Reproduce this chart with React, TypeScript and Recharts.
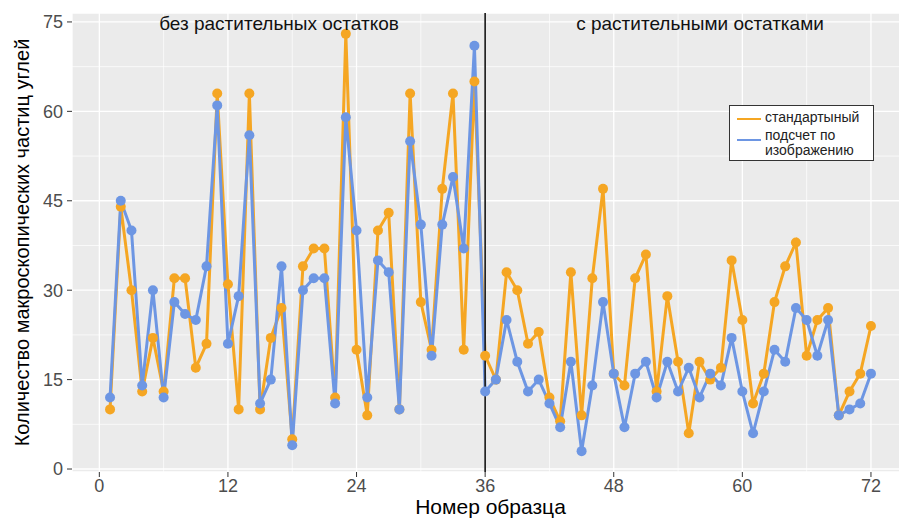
import React from 'react';
import { LineChart, Line, XAxis, YAxis, CartesianGrid, ReferenceLine } from 'recharts';

const standardCounts = [10, 44, 30, 13, 22, 13, 32, 32, 17, 21, 63, 31, 10, 63, 10, 22, 27, 5, 34, 37, 37, 12, 73, 20, 9, 40, 43, 10, 63, 28, 20, 47, 63, 20, 65, 19, 15, 33, 30, 21, 23, 12, 8, 33, 9, 32, 47, 16, 14, 32, 36, 13, 29, 18, 6, 18, 15, 17, 35, 25, 11, 16, 28, 34, 38, 19, 25, 27, 9, 13, 16, 24];
const imageCounts = [12, 45, 40, 14, 30, 12, 28, 26, 25, 34, 61, 21, 29, 56, 11, 15, 34, 4, 30, 32, 32, 11, 59, 40, 12, 35, 33, 10, 55, 41, 19, 41, 49, 37, 71, 13, 15, 25, 18, 13, 15, 11, 7, 18, 3, 14, 28, 16, 7, 16, 18, 12, 18, 13, 17, 12, 16, 14, 22, 13, 6, 13, 20, 18, 27, 25, 19, 25, 9, 10, 11, 16];
const xTicks = [0, 12, 24, 36, 48, 60, 72];
const yTicks = [0, 15, 30, 45, 60, 75];
const xMinor = [6, 18, 30, 42, 54, 66];
const yMinor = [7.5, 22.5, 37.5, 52.5, 67.5];
const dividerX = 36;
const seriesNames = ['стандартыный', 'подсчет по изображению'];
const groupLabels = ['без растительных остатков', 'с растительными остатками'];
const xTitle = 'Номер образца';
const yTitle = 'Количество макроскопических частиц углей';

const data = standardCounts.map((v, i) => ({ x: i + 1, standard: v, image: imageCounts[i] }));

const ORANGE = '#F5A623';
const BLUE = '#6D96E3';
const FONT = '"Liberation Sans", Arial, Helvetica, sans-serif';

export default function App() {
  return (
    <div style={{ position: 'fixed', left: 0, top: 0, width: 899, height: 519, overflow: 'hidden', background: '#fff', fontFamily: FONT }}>
      <LineChart width={940} height={519} data={data} margin={{ top: 13, right: 31, bottom: 0, left: 0 }}>
        <CartesianGrid fill="#EBEBEB" stroke="#FFFFFF" strokeWidth={1.3} />
        {xMinor.map((v) => (
          <ReferenceLine key={'mx' + v} x={v} stroke="#FFFFFF" strokeWidth={0.7} />
        ))}
        {yMinor.map((v) => (
          <ReferenceLine key={'my' + v} y={v} stroke="#FFFFFF" strokeWidth={0.7} />
        ))}
        <XAxis
          dataKey="x"
          type="number"
          domain={[-2.55, 75.55]}
          allowDataOverflow
          ticks={xTicks}
          interval={0}
          height={47}
          axisLine={false}
          tickSize={5}
          tickLine={{ stroke: '#333333' }}
          tick={{ fill: '#4D4D4D', fontSize: 18, fontFamily: FONT }}
          label={{ value: xTitle, position: 'center', dy: 11, style: { fontSize: 21, fill: '#000', fontFamily: FONT } }}
        />
        <YAxis
          type="number"
          domain={[-0.5, 76.5]}
          allowDataOverflow
          ticks={yTicks}
          interval={0}
          width={72}
          axisLine={false}
          tickSize={5}
          tickMargin={4}
          tickLine={{ stroke: '#333333' }}
          tick={{ fill: '#4D4D4D', fontSize: 18, fontFamily: FONT }}
          label={{ value: yTitle, angle: -90, position: 'center', dx: -14, style: { fontSize: 20, fill: '#000', fontFamily: FONT, textAnchor: 'middle' } }}
        />
        <Line
          type="linear"
          dataKey="standard"
          name={seriesNames[0]}
          stroke={ORANGE}
          strokeWidth={3}
          dot={{ r: 5, fill: ORANGE, stroke: 'none' }}
          activeDot={false}
          isAnimationActive={false}
        />
        <Line
          type="linear"
          dataKey="image"
          name={seriesNames[1]}
          stroke={BLUE}
          strokeWidth={3}
          dot={{ r: 5, fill: BLUE, stroke: 'none' }}
          activeDot={false}
          isAnimationActive={false}
        />
        <ReferenceLine x={dividerX} stroke="#222222" strokeWidth={1.7} />
      </LineChart>

      <div style={{ position: 'absolute', left: 279, top: 13, transform: 'translateX(-50%)', fontSize: 19, lineHeight: '22px', color: '#111', whiteSpace: 'nowrap' }}>
        {groupLabels[0]}
      </div>
      <div style={{ position: 'absolute', left: 700, top: 13, transform: 'translateX(-50%)', fontSize: 19, lineHeight: '22px', color: '#111', whiteSpace: 'nowrap' }}>
        {groupLabels[1]}
      </div>

      <div style={{ position: 'absolute', left: 729, top: 105, width: 145, height: 56, border: '1px solid #333', background: '#fff', boxSizing: 'border-box', fontSize: 14, color: '#222' }}>
        <div style={{ position: 'absolute', left: 7, top: 12, width: 24, height: 2, background: ORANGE }} />
        <div style={{ position: 'absolute', left: 35, top: 4, lineHeight: '15px', whiteSpace: 'nowrap' }}>{seriesNames[0]}</div>
        <div style={{ position: 'absolute', left: 7, top: 33, width: 24, height: 1.5, background: BLUE }} />
        <div style={{ position: 'absolute', left: 35, top: 22, lineHeight: '15px', whiteSpace: 'nowrap' }}>
          подсчет по<br />изображению
        </div>
      </div>
    </div>
  );
}
